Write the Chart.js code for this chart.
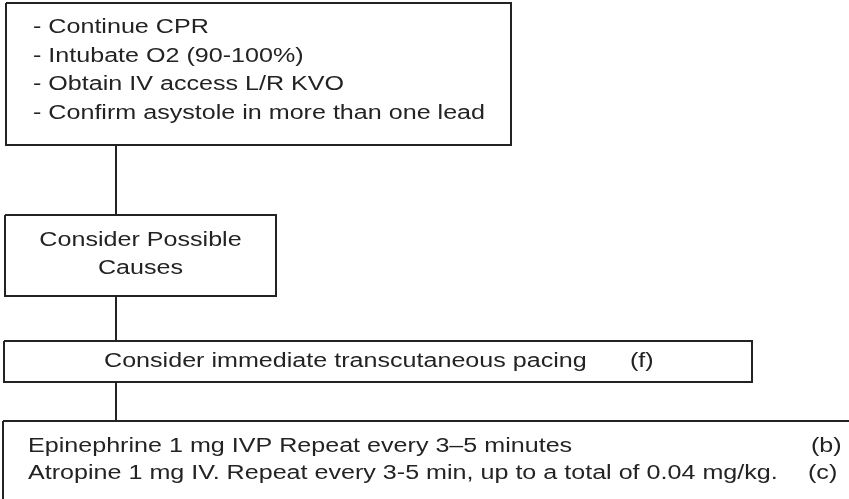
<!DOCTYPE html>
<html lang="en">
  <head>
    <meta charset="UTF-8" />
    <title>Asystole Flowchart</title>
    <script src="https://cdn.jsdelivr.net/npm/chart.js"></script>
    <style>
      body {
        margin: 0;
        background-color: #fff;
      }
      canvas {
        display: block;
      }
    </style>
  </head>
  <body>
    <canvas id="flowChart" width="849" height="499"></canvas>

    <script>
      // flowchart content
      const stepBoxLines = [
        [
          "- Continue CPR",
          "- Intubate O2 (90-100%)",
          "- Obtain IV access L/R KVO",
          "- Confirm asystole in more than one lead",
        ],
        ["Consider Possible", "Causes"],
        ["Consider immediate transcutaneous pacing"],
        [
          "Epinephrine 1 mg IVP Repeat every 3–5 minutes",
          "Atropine 1 mg IV. Repeat every 3-5 min, up to a total of 0.04 mg/kg.",
        ],
      ];
      const stepNotes = [[], [], ["(f)"], ["(b)", "(c)"]];

      // layout (canvas units, y down)
      const layout = {
        boxes: [
          { x0: 6, x1: 511, y0: 3, y1: 145, align: "left", tx: 33, ty: [27, 56, 84, 113] },
          { x0: 5, x1: 276, y0: 215, y1: 296, align: "center", tx: 140.5, ty: [240, 268] },
          { x0: 4, x1: 752, y0: 341, y1: 382, align: "left", tx: 104, ty: [361], nx: [630] },
          { x0: 3, x1: 860, y0: 421, y1: 510, align: "left", tx: 28, ty: [446, 473], nx: [811, 808] },
        ],
        connectorX: 116,
      };

      const ink = "#232323";
      const font = "20px 'Liberation Sans', Arial, sans-serif";
      const stretchX = 1.255; // the scan's lettering is wider than normal

      const datasets = [];
      layout.boxes.forEach((b) => {
        datasets.push({
          data: [
            { x: b.x0, y: b.y0 },
            { x: b.x1, y: b.y0 },
            { x: b.x1, y: b.y1 },
            { x: b.x0, y: b.y1 },
            { x: b.x0, y: b.y0 },
          ],
        });
      });
      for (let i = 0; i < layout.boxes.length - 1; i++) {
        datasets.push({
          data: [
            { x: layout.connectorX, y: layout.boxes[i].y1 },
            { x: layout.connectorX, y: layout.boxes[i + 1].y0 },
          ],
        });
      }
      datasets.forEach((d) => {
        d.showLine = true;
        d.borderColor = ink;
        d.borderWidth = 2;
        d.pointRadius = 0;
        d.fill = false;
        d.tension = 0;
        d.clip = false;
      });

      function drawText(ctx, text, x, y, align) {
        ctx.save();
        ctx.translate(x, y);
        ctx.scale(stretchX, 1);
        ctx.textAlign = align;
        ctx.fillText(text, 0, 0);
        ctx.restore();
      }

      const textPlugin = {
        id: "boxText",
        afterDatasetsDraw(chart) {
          const { ctx, scales } = chart;
          ctx.save();
          ctx.font = font;
          ctx.fillStyle = ink;
          ctx.textBaseline = "middle";
          layout.boxes.forEach((b, i) => {
            stepBoxLines[i].forEach((line, j) => {
              drawText(
                ctx,
                line,
                scales.x.getPixelForValue(b.tx),
                scales.y.getPixelForValue(b.ty[j]),
                b.align
              );
            });
            stepNotes[i].forEach((note, j) => {
              drawText(
                ctx,
                note,
                scales.x.getPixelForValue(b.nx[j]),
                scales.y.getPixelForValue(b.ty[j]),
                "left"
              );
            });
          });
          ctx.restore();
        },
      };

      new Chart(document.getElementById("flowChart").getContext("2d"), {
        type: "scatter",
        data: { datasets },
        options: {
          responsive: false,
          animation: false,
          layout: { padding: 0 },
          plugins: { legend: { display: false }, tooltip: { enabled: false } },
          scales: {
            x: { type: "linear", min: 0, max: 849, display: false },
            y: { type: "linear", min: 0, max: 499, reverse: true, display: false },
          },
        },
        plugins: [textPlugin],
      });
    </script>
  </body>
</html>
